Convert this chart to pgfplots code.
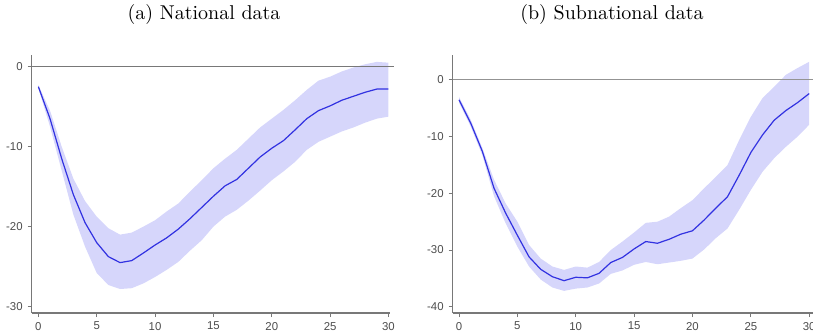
\documentclass[border=0pt]{standalone}
\usepackage{fontspec}
\newfontfamily\tickfont{Liberation Sans}
\usepackage{pgfplots}
\pgfplotsset{compat=1.18}
\usepgfplotslibrary{fillbetween}
\definecolor{bandc}{RGB}{214,214,251}
\definecolor{linec}{RGB}{50,50,225}
\definecolor{axc}{RGB}{120,120,120}
\pgfplotsset{
  panel/.style={
    scale only axis, height=129pt,
    axis lines=left, axis line style={axc, line width=0.6pt, -},
    tick align=outside, major tick length=2pt,
    tick style={axc, line width=0.5pt},
    xtick={0,5,...,30},
    tick label style={font=\tickfont\fontsize{5.7}{6}\selectfont, text=black!70},
    /pgf/number format/assume math mode=true,
    clip=false,
    xticklabel style={yshift=1pt},
    yticklabel style={xshift=1pt},
  }
}
\begin{document}
\begin{tikzpicture}
\node[font=\normalsize] at (102pt,158.5pt) {(a) National data};
\node[font=\normalsize] at (306pt,158.5pt) {(b) Subnational data};
\begin{axis}[panel, at={(15.85pt,9.5pt)}, anchor=south west,
  width=179.2pt, xmin=-0.57, xmax=30.14, ymin=-30.8, ymax=1.46,
  ytick={-30,-20,-10,0}]
\addplot[name path=upA, draw=none] coordinates {
(0,-2.3)(1,-5.5)(2,-10)(3,-14)(4,-16.8)(5,-18.75)(6,-20.2)(7,-21)(8,-20.75)(9,-20)(10,-19.2)
(11,-18.1)(12,-17.1)(13,-15.6)(14,-14.2)(15,-12.7)(16,-11.5)(17,-10.4)(18,-9)(19,-7.6)(20,-6.5)
(21,-5.4)(22,-4.2)(23,-2.9)(24,-1.75)(25,-1.25)(26,-0.6)(27,-0.1)(28,0.3)(29,0.6)(30,0.5)};
\addplot[name path=loA, draw=none] coordinates {
(0,-2.7)(1,-7.5)(2,-13)(3,-18.5)(4,-22.5)(5,-25.8)(6,-27.3)(7,-27.8)(8,-27.7)(9,-27.1)(10,-26.3)
(11,-25.4)(12,-24.4)(13,-23)(14,-21.7)(15,-20)(16,-18.75)(17,-17.9)(18,-16.75)(19,-15.5)(20,-14.2)
(21,-13.1)(22,-11.9)(23,-10.4)(24,-9.4)(25,-8.75)(26,-8.1)(27,-7.6)(28,-7)(29,-6.5)(30,-6.25)};
\addplot[bandc] fill between[of=upA and loA];
\addplot[axc, line width=0.8pt] coordinates {(-0.57,0)(30.5,0)};
\addplot[linec, line width=0.6pt] coordinates {
(0,-2.5)(1,-6.5)(2,-11.5)(3,-16)(4,-19.5)(5,-22)(6,-23.75)(7,-24.5)(8,-24.25)(9,-23.3)(10,-22.3)
(11,-21.4)(12,-20.3)(13,-19)(14,-17.6)(15,-16.2)(16,-14.9)(17,-14.1)(18,-12.7)(19,-11.3)(20,-10.2)
(21,-9.25)(22,-7.9)(23,-6.5)(24,-5.5)(25,-4.9)(26,-4.2)(27,-3.7)(28,-3.2)(29,-2.8)(30,-2.8)};
\end{axis}
\begin{axis}[panel, at={(226.35pt,9.5pt)}, anchor=south west,
  width=180pt, xmin=-0.54, xmax=30.3, ymin=-41.1, ymax=4.4,
  ytick={-40,-30,-20,-10,0}]
\addplot[name path=upB, draw=none] coordinates {
(0,-3)(1,-7)(2,-12)(3,-17.6)(4,-21.8)(5,-25)(6,-29.1)(7,-31.5)(8,-32.9)(9,-33.5)(10,-32.9)
(11,-33.1)(12,-32.1)(13,-30)(14,-28.5)(15,-26.9)(16,-25.2)(17,-25)(18,-24.1)(19,-22.6)(20,-21.2)
(21,-19.1)(22,-17.1)(23,-15)(24,-10.6)(25,-6.5)(26,-3.2)(27,-1.2)(28,0.9)(29,2.1)(30,3.2)};
\addplot[name path=loB, draw=none] coordinates {
(0,-4)(1,-8.2)(2,-13.3)(3,-20.5)(4,-25.3)(5,-29.4)(6,-32.9)(7,-35.2)(8,-36.6)(9,-37.2)(10,-36.8)
(11,-36.6)(12,-35.9)(13,-34.2)(14,-33.6)(15,-32.6)(16,-32.1)(17,-32.5)(18,-32.2)(19,-31.9)(20,-31.5)
(21,-29.9)(22,-27.9)(23,-26.2)(24,-22.9)(25,-19.4)(26,-16.2)(27,-13.8)(28,-11.8)(29,-10)(30,-7.9)};
\addplot[bandc] fill between[of=upB and loB];
\addplot[axc!80, line width=0.5pt] coordinates {(-0.54,0)(30.3,0)};
\addplot[linec, line width=0.6pt] coordinates {
(0,-3.5)(1,-7.6)(2,-12.6)(3,-19.1)(4,-23.5)(5,-27.4)(6,-31.2)(7,-33.4)(8,-34.7)(9,-35.4)(10,-34.8)
(11,-34.9)(12,-34.1)(13,-32.2)(14,-31.3)(15,-29.8)(16,-28.5)(17,-28.8)(18,-28.1)(19,-27.2)(20,-26.6)
(21,-24.7)(22,-22.6)(23,-20.6)(24,-16.8)(25,-12.8)(26,-9.7)(27,-7.1)(28,-5.4)(29,-4)(30,-2.4)};
\end{axis}
\pgfresetboundingbox
\path[use as bounding box] (0,0) rectangle (406.5pt,166pt);
\end{tikzpicture}
\end{document}
